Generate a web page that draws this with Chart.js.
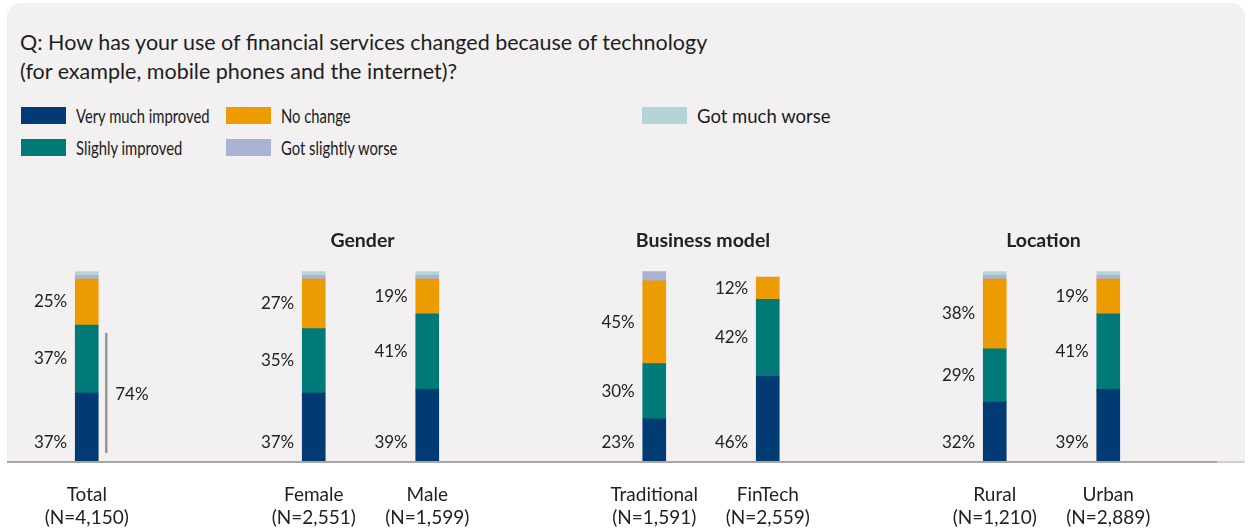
<!DOCTYPE html>
<html>
<head>
<meta charset="utf-8">
<script src="https://cdn.jsdelivr.net/npm/chart.js@4.4.1/dist/chart.umd.min.js"></script>
<style>
  body { margin: 0; background: #fff; font-family: Lato, "Noto Sans", sans-serif; color: #222; }
  #wrap { position: relative; width: 1250px; height: 530px; overflow: hidden; }
  #panel { position: absolute; left: 7px; top: 3px; width: 1238px; height: 458px; background: #f2f0f1; border-radius: 14px 14px 0 0; }
  #title { position: absolute; left: 20px; top: 28px; font-size: 21.5px; line-height: 29px; color: #1e1e1e; white-space: nowrap; }
  .leg { position: absolute; display: flex; align-items: center; font-size: 18.5px; color: #1a1a1a; height: 17px; white-space: nowrap; }
  .leg .sw { display: inline-block; width: 45px; height: 17px; margin-right: 10px; flex: none; }
  .leg .tx { display: inline-block; transform-origin: left center; }
  canvas { position: absolute; left: 0; top: 0; }
</style>
</head>
<body>
<div id="wrap">
  <div id="panel"></div>
  <div id="title">Q: How has your use of financial services changed because of technology<br>(for example, mobile phones and the internet)?</div>
  <div id="legend"></div>
  <canvas id="chart" width="1250" height="530"></canvas>
</div>
<script>
// 回答区分ごとの割合（%）
const categories = ['Total', '', 'Female', 'Male', '', 'Traditional', 'FinTech', '', 'Rural', 'Urban'];
const sampleSizes = ['(N=4,150)', '', '(N=2,551)', '(N=1,599)', '', '(N=1,591)', '(N=2,559)', '', '(N=1,210)', '(N=2,889)'];
const veryMuchImproved = [37, null, 37, 39, null, 23, 46, null, 32, 39];
const slightlyImproved = [37, null, 35, 41, null, 30, 42, null, 29, 41];
const noChange = [25, null, 27, 19, null, 45, 12, null, 38, 19];
const slightlyWorse = [2, null, 2, 2, null, 5, 0, null, 2, 2];
const muchWorse = [2, null, 2, 2, null, 0, 0, null, 2, 2];

// グループ見出し（左右のカテゴリ番号）
const groups = [
  { name: 'Gender', from: 2, to: 3 },
  { name: 'Business model', from: 5, to: 6 },
  { name: 'Location', from: 8, to: 9 }
];

const colors = {
  veryMuch: '#003b73',
  slightly: '#007a78',
  noChange: '#ec9c00',
  slightlyWorse: '#aab3d4',
  muchWorse: '#b4d5d8'
};

// 凡例（HTML）
const legendItems = [
  { label: 'Very much improved', color: colors.veryMuch, x: 21, y: 107, sx: 0.8 },
  { label: 'Slighly improved', color: colors.slightly, x: 21, y: 139, sx: 0.8 },
  { label: 'No change', color: colors.noChange, x: 226, y: 107, sx: 0.8 },
  { label: 'Got slightly worse', color: colors.slightlyWorse, x: 226, y: 139, sx: 0.8 },
  { label: 'Got much worse', color: colors.muchWorse, x: 642, y: 107, sx: 1 }
];
const legendBox = document.getElementById('legend');
legendItems.forEach(it => {
  const d = document.createElement('div');
  d.className = 'leg';
  d.style.left = it.x + 'px';
  d.style.top = it.y + 'px';
  d.innerHTML = `<span class="sw" style="background:${it.color}"></span><span class="tx" style="transform:scaleX(${it.sx})">${it.label}</span>`;
  legendBox.appendChild(d);
});

const FONT = 'Lato, "Noto Sans", sans-serif';

// ラベル・ベースライン・括弧の描画
const annotate = {
  id: 'annotate',
  afterDatasetsDraw(chart) {
    const ctx = chart.ctx;
    const x = chart.scales.x, y = chart.scales.y;
    const base = y.getPixelForValue(0);
    ctx.save();

    // ベースライン
    ctx.fillStyle = '#a9a5a3';
    ctx.fillRect(7, Math.round(base), 1210, 2);
    ctx.fillStyle = '#d3d0cf';
    ctx.fillRect(1217, Math.round(base), 28, 2);

    // 数値ラベル
    ctx.font = '17px ' + FONT;
    ctx.fillStyle = '#222';
    ctx.textAlign = 'right';
    ctx.textBaseline = 'middle';
    [0, 1, 2].forEach(di => {
      const meta = chart.getDatasetMeta(di);
      meta.data.forEach((bar, i) => {
        const v = chart.data.datasets[di].data[i];
        if (v == null) return;
        const left = bar.x - bar.width / 2 - 8;
        const cy = di === 0 ? base - 18 : (bar.y + bar.base) / 2;
        ctx.fillText(v + '%', left, cy);
      });
    });

    // カテゴリ名とサンプル数
    ctx.font = '19px ' + FONT;
    ctx.textAlign = 'center';
    categories.forEach((c, i) => {
      if (!c) return;
      const cx = x.getPixelForValue(i);
      ctx.fillText(c, cx, base + 34);
      ctx.fillText(sampleSizes[i], cx, base + 57);
    });

    // グループ見出し
    ctx.font = 'bold 19.5px ' + FONT;
    groups.forEach(g => {
      const cx = (x.getPixelForValue(g.from) + x.getPixelForValue(g.to)) / 2 - 8;
      ctx.fillText(g.name, cx, 241);
    });

    // Total の「改善」合計の括弧
    const improved = veryMuchImproved[0] + slightlyImproved[0];
    const bx = x.getPixelForValue(0) + 19.5;
    const top = y.getPixelForValue(improved) + 8;
    const bottom = base - 8;
    ctx.strokeStyle = '#9a9594';
    ctx.lineWidth = 2.5;
    ctx.beginPath();
    ctx.moveTo(bx, top);
    ctx.lineTo(bx, bottom);
    ctx.stroke();
    ctx.font = '17px ' + FONT;
    ctx.textAlign = 'left';
    ctx.fillText(improved + '%', bx + 9, (top + bottom) / 2 + 2);

    ctx.restore();
  }
};

const ds = (label, data, color) => ({
  label, data, backgroundColor: color, borderWidth: 0,
  barThickness: 23, stack: 's'
});

new Chart(document.getElementById('chart'), {
  type: 'bar',
  data: {
    labels: categories,
    datasets: [
      ds('Very much improved', veryMuchImproved, colors.veryMuch),
      ds('Slighly improved', slightlyImproved, colors.slightly),
      ds('No change', noChange, colors.noChange),
      ds('Got slightly worse', slightlyWorse, colors.slightlyWorse),
      ds('Got much worse', muchWorse, colors.muchWorse)
    ]
  },
  options: {
    responsive: false,
    animation: false,
    devicePixelRatio: 1,
    layout: { padding: { left: 30, right: 85, top: 268, bottom: 69 } },
    plugins: { legend: { display: false }, tooltip: { enabled: false } },
    scales: {
      x: { stacked: true, display: false },
      y: { stacked: true, display: false, min: 0, max: 105 }
    }
  },
  plugins: [annotate]
});
</script>
</body>
</html>
